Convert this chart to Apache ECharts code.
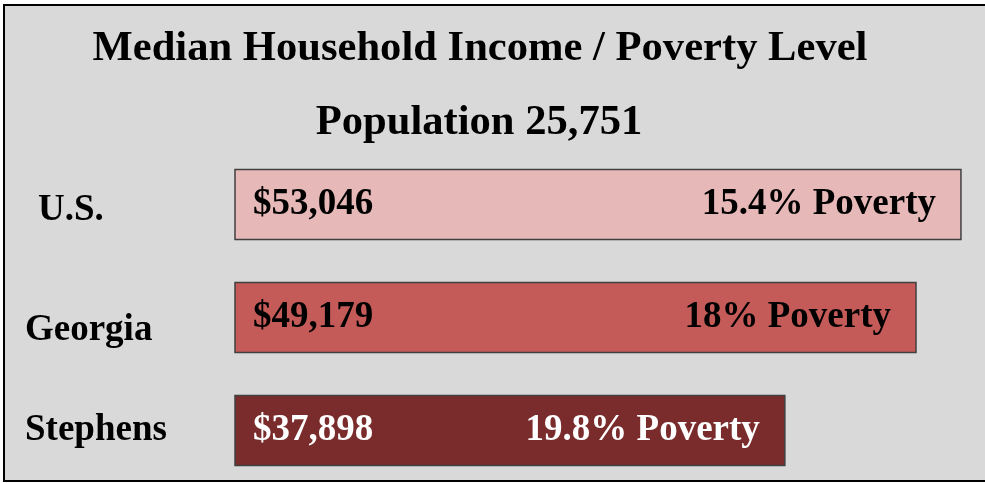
<!DOCTYPE html>
<html lang="en">
<head>
    <meta charset="UTF-8">
    <title>Median Household Income / Poverty Level</title>
    <script src="https://cdn.jsdelivr.net/npm/echarts@6/dist/echarts.min.js"></script>
    <style>
        *{margin:0;padding:0;}
        html,body{width:100%;height:100%;background:#fff;}
        #main{width:985px;height:483px;}
    </style>
</head>
<body>
    <div id="main"></div>
    <script>
        var regions=["U.S.","Georgia","Stephens"];
        var income=[53046,49179,37898];
        var poverty=[15.4,18,19.8];
        var titleText="Median Household Income / Poverty Level";
        var subText="Population 25,751";

        var barColors=["#e6b8b7","#c55b58","#7a2c2c"];//浅粉, 砖红, 深红
        var textColors=["#000","#000","#fff"];
        var serif="'Liberation Serif','Times New Roman',serif";
        var xMin=-9400, xMax=53050;

        var data=[];
        for(var i=0;i<regions.length;i++){
            data.push([income[i],regions[i]]);
        }

        function money(v){
            return "$"+v.toString().replace(/\B(?=(\d{3})+(?!\d))/g,",");
        }

        var labelFont={fontFamily:serif,fontWeight:"bold",fontSize:37,color:"#000"};
        var myChart=echarts.init(document.getElementById("main"));
        var option={
            backgroundColor:"#fff",
            animation:false,
            graphic:[{
                type:"rect",
                z:-10,
                shape:{x:4,y:5,width:1000,height:476},
                style:{fill:"#d9d9d9",stroke:"#000",lineWidth:2}
            }],
            title:[{
                text:titleText,
                left:475,
                top:22,
                textAlign:"center",
                textStyle:{fontFamily:serif,fontWeight:"bold",fontSize:42.6,color:"#000"}
            },{
                text:subText,
                left:474,
                top:96,
                textAlign:"center",
                textStyle:{fontFamily:serif,fontWeight:"bold",fontSize:42.6,color:"#000"}
            }],
            grid:{left:235,right:24,top:148,height:339,outerBoundsMode:"none"},
            xAxis:{type:"value",min:xMin,max:xMax,show:false},
            yAxis:{
                type:"category",
                data:regions,
                inverse:true,
                axisLine:{show:false},
                axisTick:{show:false},
                axisLabel:{
                    align:"left",
                    margin:210,
                    formatter:function(v,i){
                        return "{c"+i+"|"+v+"}";
                    },
                    rich:{
                        c0:Object.assign({padding:[12,0,0,13]},labelFont),
                        c1:Object.assign({padding:[26,0,0,0]},labelFont),
                        c2:Object.assign({padding:[0,0,0,0]},labelFont)
                    }
                }
            },
            series:[{
                type:"custom",
                data:data,
                encode:{x:0,y:1},
                renderItem:function(params,api){
                    var idx=params.dataIndex;
                    var start=api.coord([xMin,api.value(1)]);
                    var end=api.coord([api.value(0),api.value(1)]);
                    var h=70;
                    var font="bold 37px "+serif;
                    return {
                        type:"group",
                        children:[{
                            type:"rect",
                            shape:{x:start[0],y:end[1]-h/2,width:end[0]-start[0],height:h},
                            style:{fill:barColors[idx],stroke:"#404040",lineWidth:1.5}
                        },{
                            type:"text",
                            style:{
                                text:money(income[idx]),
                                x:start[0]+18,y:end[1],
                                fill:textColors[idx],font:font,
                                textAlign:"left",textVerticalAlign:"middle"
                            }
                        },{
                            type:"text",
                            style:{
                                text:poverty[idx]+"% Poverty",
                                x:end[0]-25,y:end[1],
                                fill:textColors[idx],font:font,
                                textAlign:"right",textVerticalAlign:"middle"
                            }
                        }]
                    };
                }
            }]
        };
        myChart.setOption(option);
        window.onresize=myChart.resize;
    </script>
</body>
</html>
